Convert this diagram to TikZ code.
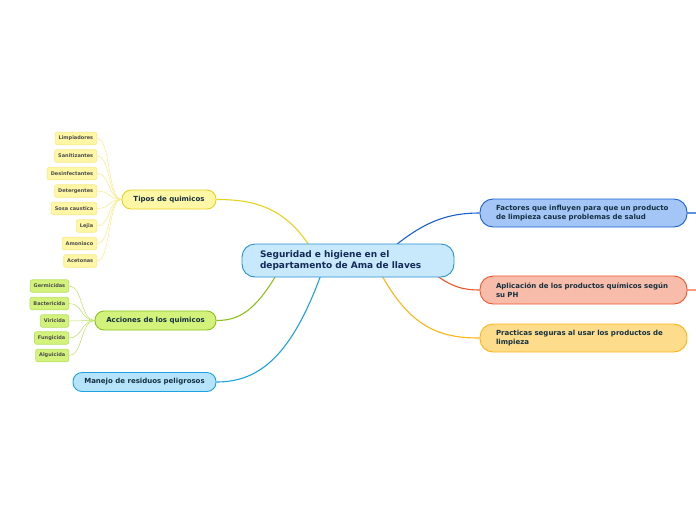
\documentclass[tikz,border=0pt]{standalone}
\usepackage{fontspec}
\setmainfont{DejaVu Sans}
\pgfdeclarelayer{background}
\pgfsetlayers{background,main}
\definecolor{txt}{HTML}{143040}
\definecolor{ctxt}{HTML}{142A5A}
\definecolor{cfill}{HTML}{C7E9FB}\definecolor{cdraw}{HTML}{2A8FD0}
\definecolor{ffill}{HTML}{A4C6F7}\definecolor{fdraw}{HTML}{1A5FD0}
\definecolor{afill}{HTML}{F8BDAA}\definecolor{adraw}{HTML}{F0552A}
\definecolor{pfill}{HTML}{FDDC8C}\definecolor{pdraw}{HTML}{FDB515}
\definecolor{tfill}{HTML}{FFF6A6}\definecolor{tdraw}{HTML}{E6D31E}\definecolor{tleaf}{HTML}{F7EA86}
\definecolor{gfill}{HTML}{D3F27C}\definecolor{gdraw}{HTML}{8CC21C}\definecolor{gleaf}{HTML}{B9E160}
\definecolor{mfill}{HTML}{B5E4FA}\definecolor{mdraw}{HTML}{1EA1E2}
\tikzset{
  central/.style={draw=cdraw, fill=cfill, line width=0.9pt, rounded corners=13pt,
    minimum height=33pt, text width=176pt, inner xsep=18pt, inner ysep=0pt, align=left,
    font=\bfseries\fontsize{9}{11}\selectfont, text=ctxt},
  mainbr/.style={draw=#1, line width=0.9pt, rounded corners=13pt,
    minimum height=28pt, text width=179pt, inner xsep=14pt, inner ysep=0pt, align=left,
    font=\bfseries\fontsize{7}{8.5}\selectfont, text=txt},
  subbr/.style={draw=#1, line width=0.9pt, rounded corners=9pt,
    minimum height=19pt, inner xsep=4pt, inner ysep=0pt, align=center,
    font=\bfseries\fontsize{7}{8}\selectfont, text=txt},
  leaf/.style={draw=#1, line width=0.6pt, rounded corners=2pt, anchor=east,
    minimum height=12.5pt, inner xsep=3.5pt, inner ysep=0pt,
    font=\bfseries\fontsize{5}{6}\selectfont, text=black!70},
  branch/.style={draw=#1, line width=1.1pt},
  leafline/.style={draw=#1, line width=0.5pt},
}
\begin{document}
\begin{tikzpicture}[x=1pt,y=-1pt]
\useasboundingbox (0,0) rectangle (696,520);
\node[central] (c) at (348,260.5) {Seguridad e higiene en el\\departamento de Ama de llaves};
\node[mainbr=fdraw, fill=ffill] (f) at (583.5,213) {\hspace*{2pt}Factores que influyen para que un producto\\\hspace*{2pt}de limpieza cause problemas de salud};
\node[mainbr=adraw, fill=afill] (ap) at (583.5,290) {\hspace*{2pt}Aplicación de los productos químicos según\\\hspace*{2pt}su PH};
\node[mainbr=pdraw, fill=pfill] (pr) at (583.5,338) {\hspace*{2pt}Practicas seguras al usar los productos de\\\hspace*{2pt}limpieza};
\node[subbr=tdraw, fill=tfill, minimum width=94pt] (t) at (169,199.5) {Tipos de quimicos};
\node[subbr=gdraw, fill=gfill, minimum width=121pt] (a) at (155.5,320.5) {Acciones de los quimicos};
\node[subbr=mdraw, fill=mfill, minimum width=143pt] (m) at (144.5,382) {Manejo de residuos peligrosos};
% leaves of Tipos
\node[leaf=tleaf, fill=tfill] (t1) at (97,138.5) {Limpiadores};
\node[leaf=tleaf, fill=tfill] (t2) at (97,156) {Sanitizantes};
\node[leaf=tleaf, fill=tfill] (t3) at (97,173.5) {Desinfectantes};
\node[leaf=tleaf, fill=tfill] (t4) at (97,191) {Detergentes};
\node[leaf=tleaf, fill=tfill] (t5) at (97,208.5) {Sosa caustica};
\node[leaf=tleaf, fill=tfill] (t6) at (97,226) {Lejia};
\node[leaf=tleaf, fill=tfill] (t7) at (97,243.5) {Amoniaco};
\node[leaf=tleaf, fill=tfill] (t8) at (97,261) {Acetonas};
% leaves of Acciones
\node[leaf=gleaf, fill=gfill] (a1) at (69,286) {Germicidas};
\node[leaf=gleaf, fill=gfill] (a2) at (69,303.5) {Bactericida};
\node[leaf=gleaf, fill=gfill] (a3) at (69,321) {Viricida};
\node[leaf=gleaf, fill=gfill] (a4) at (69,338) {Fungicida};
\node[leaf=gleaf, fill=gfill] (a5) at (69,355.5) {Alguicida};
\coordinate (fe) at (696,213);
\coordinate (ae) at (696,290);
\coordinate (sT) at (312,250);
\coordinate (sA) at (278,272);
\coordinate (sM) at (322,272);
\coordinate (sF) at (390,250);
\coordinate (sAp) at (432,272);
\coordinate (sP) at (380,272);
\begin{pgfonlayer}{background}
\draw[branch=tdraw] (sT) .. controls (285,205) and (250,199.5) .. (t.east);
\draw[branch=gdraw] (sA) .. controls (255,312) and (238,320.5) .. (a.east);
\draw[branch=mdraw] (sM) .. controls (292,355) and (260,382) .. (m.east);
\draw[branch=fdraw] (sF) .. controls (425,220) and (450,213) .. (f.west);
\draw[branch=adraw] (sAp) .. controls (452,288) and (465,290) .. (ap.west);
\draw[branch=pdraw] (sP) .. controls (410,328) and (440,338) .. (pr.west);
\draw[branch=fdraw!70] (f.east) -- (fe);
\draw[branch=adraw!60] (ap.east) -- (ae);
\foreach \l in {t1,t2,t3,t4,t5,t6,t7,t8}
  \draw[leafline=tleaf] (t.west) .. controls +(-14,0) and +(14,0) .. (\l.east);
\foreach \l in {a1,a2,a3,a4,a5}
  \draw[leafline=gleaf] (a.west) .. controls +(-14,0) and +(14,0) .. (\l.east);
\end{pgfonlayer}
\end{tikzpicture}
\end{document}
